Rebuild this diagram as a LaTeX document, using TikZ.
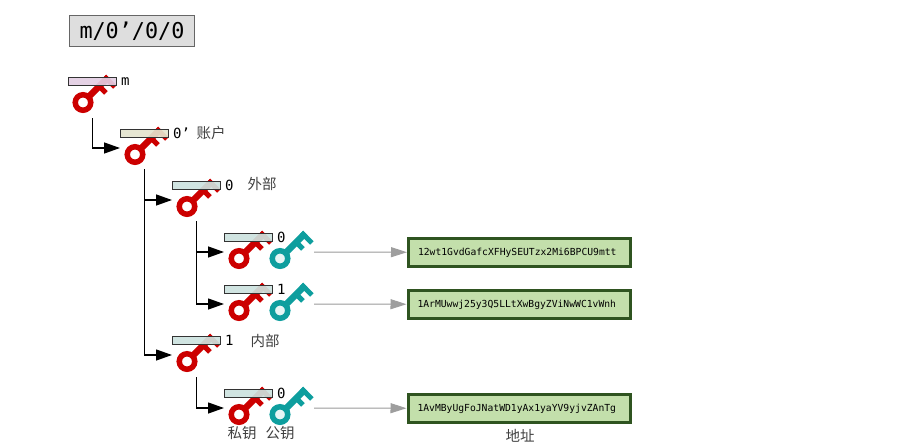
\documentclass[tikz,border=0pt]{standalone}
\usepackage{fontspec}
\setmonofont{DejaVu Sans Mono}
\newfontfamily\cnfont{Noto Sans CJK SC}
\usetikzlibrary{positioning,arrows.meta}
\definecolor{keyred}{HTML}{CC0000}
\definecolor{keyteal}{HTML}{0E9E9E}
\definecolor{rootbar}{HTML}{E3CEE3}
\definecolor{acctbar}{HTML}{E4E4CE}
\definecolor{leafbar}{HTML}{CCE2DE}
\definecolor{addrgreen}{HTML}{C3DFAB}
\definecolor{addrline}{HTML}{2F5420}
\tikzset{
  keyicon/.pic={
    \draw[line width=5.5pt, pic actions] (0,0) circle (7.75);
    \draw[line width=6.5pt, pic actions, rotate=45] (9,0) -- (36,0);
    \draw[line width=5pt, pic actions, rotate=45] (33.5,-3.25) -- (33.5,11.5);
    \draw[line width=5pt, pic actions, rotate=45] (23,0) -- (23,9.5);
    \coordinate (-west) at (-15,-6.5);
    \coordinate (-east) at (34,-6.5);
  },
  privkey/.style={draw=keyred},
  pubkey/.style={draw=keyteal, fill=white!90!keyteal},
  keybar/.style={draw=black!80, line width=1pt, minimum width=48pt, minimum height=8pt, inner sep=0pt, fill opacity=.92},
  keylabel/.style={font=\ttfamily\fontsize{14}{14}\selectfont, inner sep=0pt},
  cnlabel/.style={font=\cnfont\fontsize{14.5}{15}\selectfont, text=black!75, inner sep=0pt},
  addrbox/.style={draw=addrline, line width=3pt, fill=addrgreen, minimum width=222pt, minimum height=28pt, inner sep=0pt, text width=203pt, align=left, font=\ttfamily\fontsize{9.7}{10}\selectfont},
  pathbox/.style={draw=black!60, line width=1.2pt, fill=black!13, minimum width=125pt, minimum height=31pt, inner sep=0pt, font=\ttfamily\fontsize{21.8}{22}\selectfont},
  branch/.style={-{Triangle[length=16pt, width=11pt]}, line width=1.3pt},
  derive/.style={-{Triangle[length=16pt, width=10pt]}, line width=1pt, draw=black!38, fill=black!38},
}
\begin{document}
\begin{tikzpicture}[x=1pt, y=-1pt]
  \useasboundingbox (0,0) rectangle (900,447);
  \node[pathbox] (title) at (132,31) {m/0’/0/0};

  \pic[privkey] (mkey) at (83,102.5) {keyicon};
  \pic[privkey] (acctkey) at (135,154.5) {keyicon};
  \pic[privkey] (extkey) at (187,206.5) {keyicon};
  \pic[privkey] (extakey) at (239,258.5) {keyicon};
  \pic[privkey] (extbkey) at (239,310.5) {keyicon};
  \pic[privkey] (intkey) at (187,361.5) {keyicon};
  \pic[privkey] (intakey) at (239,414.5) {keyicon};
  \pic[pubkey] (extapub) at (280,258.5) {keyicon};
  \pic[pubkey] (extbpub) at (280,310.5) {keyicon};
  \pic[pubkey] (intapub) at (280,414.5) {keyicon};

  \node[keybar, fill=rootbar] (mbar) at (92.5,81.5) {};
  \node[keybar, fill=acctbar] (acctbar) at (144.5,133) {};
  \node[keybar, fill=leafbar] (extbar) at (196.5,185) {};
  \node[keybar, fill=leafbar] (extabar) at (248.5,237.5) {};
  \node[keybar, fill=leafbar] (extbbar) at (248.5,289.5) {};
  \node[keybar, fill=leafbar] (intbar) at (196.5,340.5) {};
  \node[keybar, fill=leafbar] (intabar) at (248.5,393) {};

  \node[keylabel, right=4pt of mbar] (mlabel) {m};
  \node[keylabel, right=4pt of acctbar] (acctlabel) {0’};
  \node[keylabel, right=4pt of extbar] (extlabel) {0};
  \node[keylabel, right=4pt of extabar] (extalabel) {0};
  \node[keylabel, right=4pt of extbbar] (extblabel) {1};
  \node[keylabel, right=4pt of intbar] (intlabel) {1};
  \node[keylabel, right=4pt of intabar] (intalabel) {0};
  \node[cnlabel] (acctname) at (211,133) {账户};
  \node[cnlabel] (extname) at (262,184) {外部};
  \node[cnlabel] (intname) at (265,341) {内部};
  \node[cnlabel] (privname) at (242,433) {私钥};
  \node[cnlabel] (pubname) at (280,433) {公钥};

  \node[addrbox] (addra) at (519.5,252.5) {12wt1GvdGafcXFHySEUTzx2Mi6BPCU9mtt};
  \node[addrbox] (addrb) at (519,304.5) {1ArMUwwj25y3Q5LLtXwBgyZViNwWC1vWnh};
  \node[addrbox] (addrc) at (519,408.5) {1AvMByUgFoJNatWD1yAx1yaYV9yjvZAnTg};
  \node[cnlabel] (addrname) at (520,436) {地址};

  \coordinate (mtrunk) at (92.5,118);
  \coordinate (accttrunk) at (144.5,169);
  \coordinate (exttrunk) at (196.5,221);
  \coordinate (inttrunk) at (196.5,377);
  \draw[branch] (mtrunk) |- (acctkey-west);
  \draw[branch] (accttrunk) |- (extkey-west);
  \draw[branch] (accttrunk) |- (intkey-west);
  \draw[branch] (exttrunk) |- (extakey-west);
  \draw[branch] (exttrunk) |- (extbkey-west);
  \draw[branch] (inttrunk) |- (intakey-west);

  \draw[derive] (extapub-east) -- (addra);
  \draw[derive] (extbpub-east) -- (addrb);
  \draw[derive] (intapub-east) -- (addrc);
\end{tikzpicture}
\end{document}
